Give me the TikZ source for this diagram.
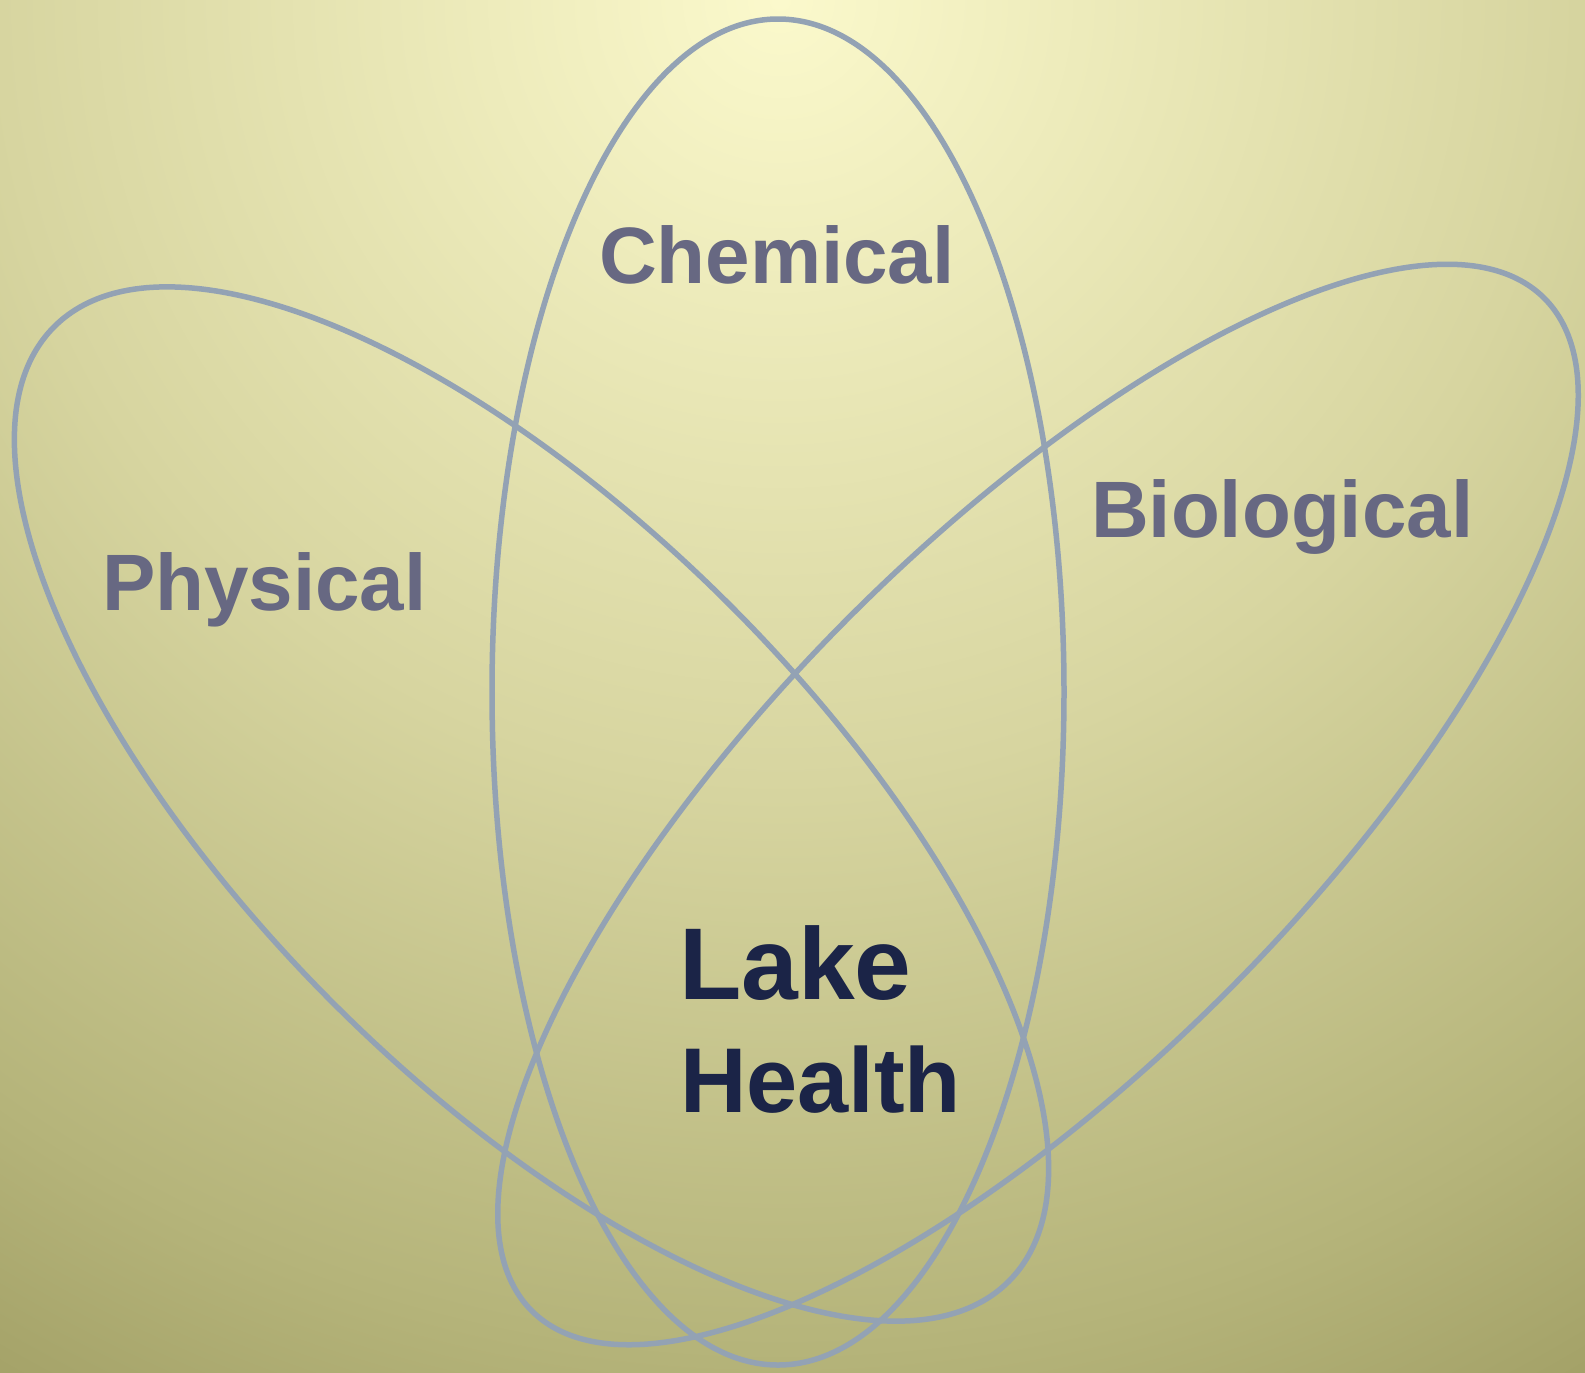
\documentclass[tikz,border=0pt]{standalone}
\usepackage{fontspec}
\setmainfont{Liberation Sans}
\definecolor{bgA}{RGB}{251,249,204}
\definecolor{bgB}{RGB}{215,213,160}
\definecolor{bgC}{RGB}{181,180,122}
\definecolor{bgD}{RGB}{166,164,106}
\definecolor{bgE}{RGB}{163,161,103}
\definecolor{bgF}{RGB}{150,148,90}
\definecolor{ringc}{RGB}{147,162,180}
\definecolor{lblc}{RGB}{103,104,130}
\definecolor{mainc}{RGB}{27,36,71}
\pgfdeclareradialshading{bgshade}{\pgfpoint{0bp}{0bp}}{color(0bp)=(bgA); color(12.19bp)=(bgB); color(21.09bp)=(bgC); color(24.375bp)=(bgD); color(25bp)=(bgE); color(50bp)=(bgF)}
\begin{document}
\begin{tikzpicture}[x=0.5pt,y=0.5pt,
  ring/.style={draw=ringc, line width=2.75pt},
  lbl/.style={font=\bfseries\fontsize{40}{48}\selectfont, text=lblc, inner sep=0pt, outer sep=0pt, anchor=base west},
  mainlbl/.style={text=mainc, inner sep=0pt, outer sep=0pt, anchor=base west}]
\useasboundingbox (0,0) rectangle (1585,-1372);
\begin{scope}
\clip (0,0) rectangle (1585,-1372);
\shade[shading=bgshade] (780,0) circle [radius=800pt];
\end{scope}
\coordinate (cC) at (778,-692);
\coordinate (cP) at (531.5,-804);
\coordinate (cB) at (1038,-804.5);
\draw[ring] (cC) ellipse [x radius=143pt, y radius=336.5pt];
\draw[ring, rotate around={-45:(cP)}] (cP) ellipse [x radius=337.5pt, y radius=140.5pt];
\draw[ring, rotate around={45:(cB)}] (cB) ellipse [x radius=358pt, y radius=133pt];
\node[lbl] (chem) at (599,-283) {Chemical};
\node[lbl] (phys) at (102,-610) {Physical};
\node[lbl] (bio) at (1091,-537) {Biological};
\node[mainlbl, font=\bfseries\fontsize{51}{60}\selectfont] (lake) at (679,-999) {Lake};
\node[mainlbl, font=\bfseries\fontsize{46}{55}\selectfont] (health) at (680,-1112) {Health};
\end{tikzpicture}
\end{document}
